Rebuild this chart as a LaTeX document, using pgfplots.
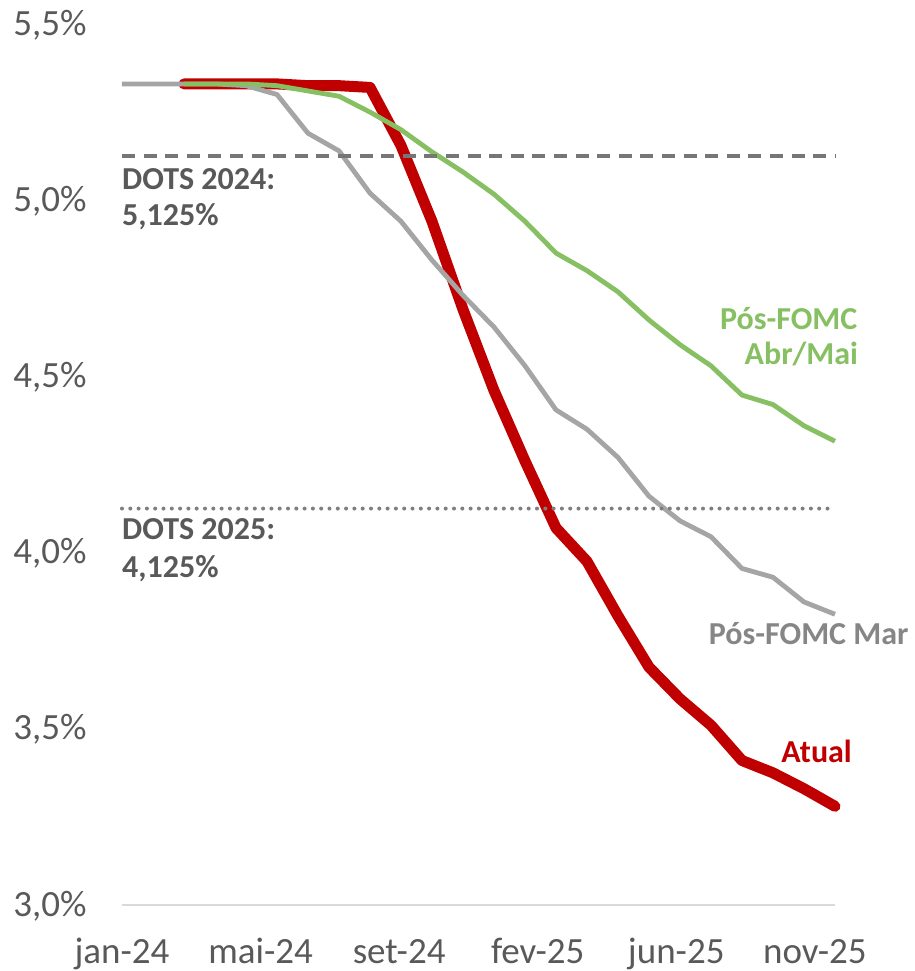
\documentclass[border=0pt]{standalone}
\usepackage{fontspec}
\setmainfont{Carlito}
\usepackage{pgfplots}
\pgfplotsset{compat=1.18}

\definecolor{linered}{HTML}{C00000}
\definecolor{linegreen}{HTML}{87C062}
\definecolor{linegray}{HTML}{A5A5A5}
\definecolor{txtgray}{HTML}{595959}
\definecolor{margray}{HTML}{868686}
\definecolor{dashgray}{HTML}{767676}
\definecolor{dotgray}{HTML}{7F7F7F}
\definecolor{axgray}{HTML}{D9D9D9}

\begin{document}
\begin{tikzpicture}
\useasboundingbox (-61pt,-33pt) rectangle (396.5pt,452.5pt);
\begin{axis}[
    at={(0,0)}, anchor=south west,
    scale only axis, width=356.5pt, height=440.5pt,
    xmin=0, xmax=23, ymin=3, ymax=5.5,
    clip=false,
    axis x line*=bottom, axis y line*=left,
    x axis line style={draw=axgray, line width=1pt, -},
    y axis line style={draw=none},
    major tick length=0pt,
    xtick={0,4.47,8.94,13.41,17.88,22.35},
    xticklabels={jan-24,mai-24,set-24,fev-25,jun-25,nov-25},
    ytick={3,3.5,4,4.5,5,5.5},
    yticklabels={{3,0\%},{3,5\%},{4,0\%},{4,5\%},{5,0\%},{5,5\%}},
    xticklabel style={anchor=base, yshift=-29pt, inner sep=0pt,
        font=\fontsize{18.5}{22}\selectfont, text=txtgray},
    yticklabel style={anchor=base east, xshift=-17.5pt, yshift=-5.5pt, inner sep=0pt,
        font=\fontsize{18.5}{22}\selectfont, text=txtgray},
    every node/.append style={inner sep=0pt},
]
% Atual
\addplot[linered, line width=5.5pt, line cap=round, line join=round, mark=none] coordinates {
(2,5.33) (3,5.33) (4,5.33) (5,5.33) (6,5.325) (7,5.325) (8,5.32)
(9,5.155) (10,4.94) (11,4.69) (12,4.46) (13,4.26) (14,4.07) (15,3.975)
(16,3.82) (17,3.675) (18,3.585) (19,3.51) (20,3.41) (21,3.375) (22,3.33) (23,3.28)};
% Pos-FOMC Mar
\addplot[linegray, line width=2.4pt, line join=round, mark=none] coordinates {
(0,5.33) (1,5.33) (2,5.33) (3,5.33) (4,5.325) (5,5.30) (6,5.19) (7,5.14)
(8,5.02) (9,4.94) (10,4.83) (11,4.73) (12,4.64) (13,4.53) (14,4.405) (15,4.35)
(16,4.27) (17,4.16) (18,4.09) (19,4.045) (20,3.955) (21,3.93) (22,3.86) (23,3.825)};
% Pos-FOMC Abr/Mai
\addplot[linegreen, line width=2.4pt, line join=round, mark=none] coordinates {
(2,5.33) (3,5.33) (4,5.33) (5,5.325) (6,5.31) (7,5.295) (8,5.25) (9,5.20)
(10,5.137) (11,5.08) (12,5.017) (13,4.94) (14,4.85) (15,4.80) (16,4.74)
(17,4.66) (18,4.59) (19,4.53) (20,4.447) (21,4.42) (22,4.36) (23,4.316)};
% dots
\addplot[dashgray, line width=2pt, dash pattern=on 6.5pt off 4.3pt, mark=none] coordinates {(0,5.125) (23,5.125)};
\addplot[dotgray, line width=2pt, line cap=round, dash pattern=on 0pt off 4.15pt, mark=none] coordinates {(0,4.125) (23,4.125)};

\begin{scope}[font=\fontsize{16}{19}\selectfont\bfseries]
\node[anchor=base west, text=txtgray] at (axis cs:-0.22,5.029) {DOTS 2024:};
\node[anchor=base west, text=txtgray] at (axis cs:-0.22,4.927) {5,125\%};
\node[anchor=base west, text=txtgray] at (axis cs:-0.22,4.036) {DOTS 2025:};
\node[anchor=base west, text=txtgray] at (axis cs:-0.22,3.928) {4,125\%};
\node[anchor=base east, text=linegreen] at (axis cs:23.95,4.634) {Pós-FOMC};
\node[anchor=base east, text=linegreen] at (axis cs:23.97,4.535) {Abr/Mai};
\node[anchor=base east, text=margray] at (axis cs:25.6,3.738) {Pós-FOMC Mar};
\node[anchor=base east, text=linered] at (axis cs:23.77,3.403) {Atual};
\end{scope}
\end{axis}
\end{tikzpicture}
\end{document}
